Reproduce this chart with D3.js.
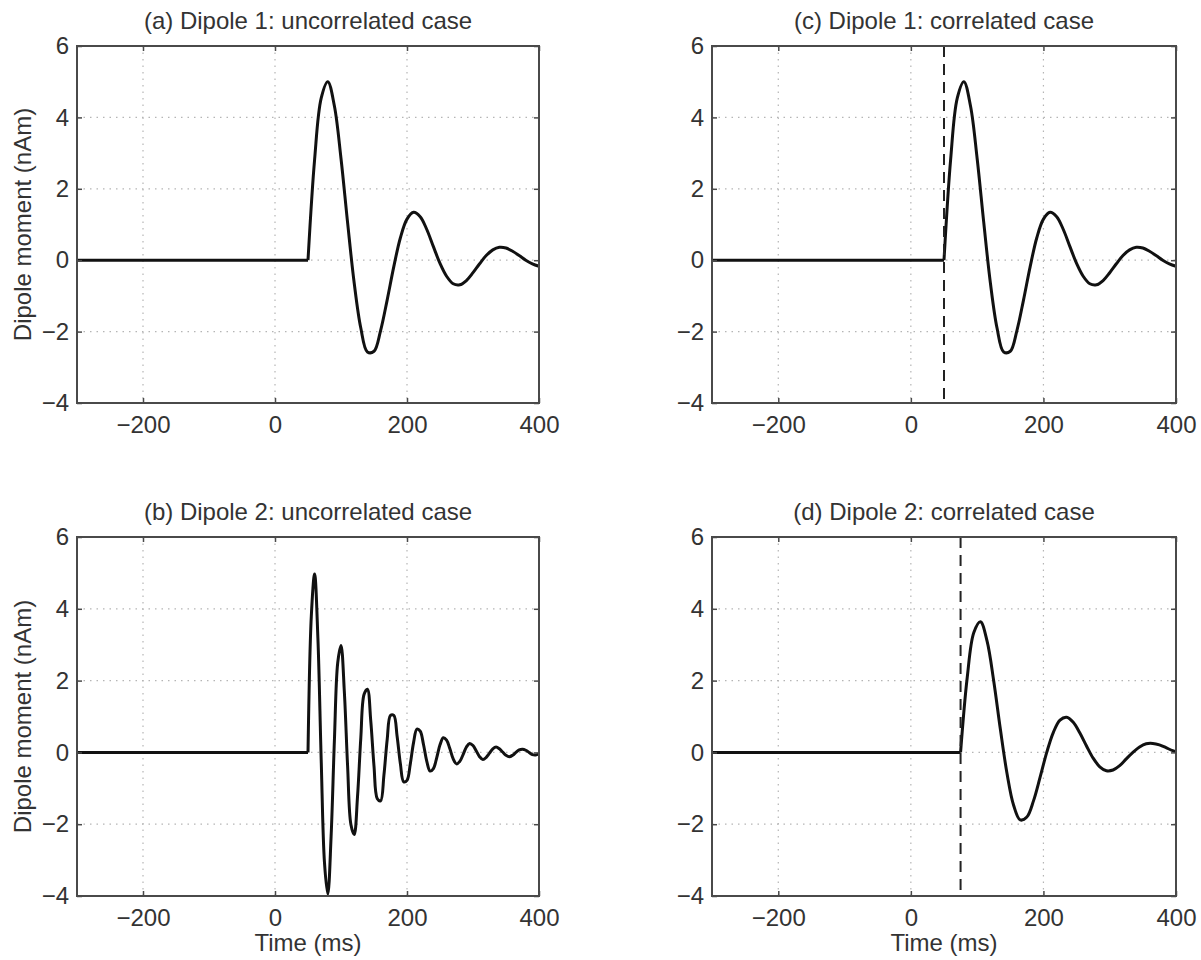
<!DOCTYPE html>
<html><head><meta charset="utf-8">
<script src="https://cdn.jsdelivr.net/npm/d3@7"></script>
<style>
body{margin:0;background:#fff;}
svg text{font-family:"Liberation Sans", Arial, Helvetica, sans-serif; fill:#333;}
</style></head><body>
<svg id="chart" width="1201" height="960"></svg>
<script>
// ---------------- data ----------------
const xDomain = [-300, 400];
const yDomain = [-4, 6];
const xTickValues = [-200, 0, 200, 400];
const yTickValues = [-4, -2, 0, 2, 4, 6];
const panelTitles = ["(a) Dipole 1: uncorrelated case", "(b) Dipole 2: uncorrelated case",
                     "(c) Dipole 1: correlated case", "(d) Dipole 2: correlated case"];
const xLabel = "Time (ms)";
const yLabel = "Dipole moment (nAm)";

// Dipole 1 (panels a and c), onset at 50 ms
const time1 = [-300, 50, 60, 70, 80, 90, 100, 110, 120, 130, 140, 150, 160, 170, 180, 190, 200,
  210, 220, 230, 240, 250, 260, 270, 280, 290, 300, 310, 320, 330, 340, 350, 360, 370, 380, 390, 400];
const dipole1 = [0, 0, 2.82, 4.54, 5.0, 4.32, 2.85, 1.05, -0.64, -1.90, -2.57, -2.55, -1.97, -1.11, -0.18, 0.63, 1.15,
  1.34, 1.22, 0.86, 0.38, -0.09, -0.45, -0.66, -0.69, -0.57, -0.35, -0.10, 0.13, 0.29, 0.36, 0.34, 0.25, 0.13, 0.0, -0.10, -0.17];

// Dipole 2, uncorrelated (panel b), onset at 50 ms
const time2u = [-300, 50, 55, 60, 65, 70, 75, 80, 85, 90, 95, 100, 105, 110, 115, 120, 125, 130, 135, 140, 145,
  150, 155, 160, 165, 170, 175, 180, 185, 190, 195, 200, 205, 210, 215, 220, 225, 230, 235, 240, 245,
  250, 255, 260, 265, 270, 275, 280, 285, 290, 295, 300, 305, 310, 315, 320, 325, 330, 335, 340, 345,
  350, 355, 360, 365, 370, 375, 380, 385, 390, 395, 400];
const dipole2u = [0, 0, 3.79, 4.97, 3.18, -0.21, -3.08, -3.95, -2.34, 0.33, 2.49,
  2.98, 1.71, -0.38, -2.01, -2.29, -1.24, 0.40, 1.62, 1.76, 0.90,
  -0.38, -1.29, -1.35, -0.64, 0.36, 1.03, 1.03, 0.45, -0.32, -0.82,
  -0.78, -0.32, 0.28, 0.65, 0.59, 0.22, -0.25, -0.52, -0.45, -0.15,
  0.21, 0.41, 0.34, 0.10, -0.18, -0.32, -0.25, -0.06, 0.15, 0.25,
  0.19, 0.04, -0.12, -0.20, -0.14, -0.02, 0.10, 0.15, 0.10, 0.01,
  -0.08, -0.12, -0.08, 0.00, 0.07, 0.09, 0.06, 0.00, -0.06, -0.07, -0.04];

// Dipole 2, correlated (panel d), onset at 75 ms
const time2c = [-300, 75, 85, 95, 105, 115, 125, 135, 145, 155, 165, 175, 185, 195, 205, 215, 225,
  235, 245, 255, 265, 275, 285, 295, 305, 315, 325, 335, 345, 355, 365, 375, 385, 395, 400];
const dipole2c = [0, 0, 2.08, 3.34, 3.64, 3.10, 1.99, 0.65, -0.58, -1.47, -1.88, -1.80, -1.35, -0.69, 0, 0.56, 0.90,
  0.98, 0.84, 0.54, 0.18, -0.16, -0.40, -0.51, -0.49, -0.37, -0.18, 0, 0.15, 0.24, 0.25, 0.21, 0.13, 0.05, 0.02];

const onsetLines = [null, null, 50, 75];
const seriesTimes = [time1, time2u, time1, time2c];
const seriesValues = [dipole1, dipole2u, dipole1, dipole2c];

// ---------------- layout ----------------
const panels = [
  {left: 77, right: 539, top: 46, bottom: 403, ylab: true, xlab: false},
  {left: 77, right: 539, top: 537, bottom: 896, ylab: true, xlab: true},
  {left: 712, right: 1176, top: 46, bottom: 403, ylab: false, xlab: false},
  {left: 712, right: 1176, top: 537, bottom: 896, ylab: false, xlab: true}
];
const FS = 24;
const svg = d3.select("#chart");
const axisColor = "#4a4a4a";

panels.forEach((p, i) => {
  const x = d3.scaleLinear().domain(xDomain).range([p.left, p.right]);
  const y = d3.scaleLinear().domain(yDomain).range([p.bottom, p.top]);
  const g = svg.append("g");

  // grid (dotted)
  g.selectAll(".gx").data(xTickValues.filter(v => v > xDomain[0] && v < xDomain[1])).join("line")
    .attr("x1", d => x(d)).attr("x2", d => x(d)).attr("y1", p.top).attr("y2", p.bottom)
    .attr("stroke", "#b5b5b5").attr("stroke-width", 1.2).attr("stroke-dasharray", "1.5,5");
  g.selectAll(".gy").data(yTickValues.filter(v => v > yDomain[0] && v < yDomain[1])).join("line")
    .attr("y1", d => y(d)).attr("y2", d => y(d)).attr("x1", p.left).attr("x2", p.right)
    .attr("stroke", "#b5b5b5").attr("stroke-width", 1.2).attr("stroke-dasharray", "1.5,5");

  // curve: flat pre-onset segment + oscillation
  const ts = seriesTimes[i], vs = seriesValues[i];
  const pts = ts.map((t, k) => [t, vs[k]]);
  const flat = d3.line().x(d => x(d[0])).y(d => y(d[1]));
  const smooth = d3.line().x(d => x(d[0])).y(d => y(d[1])).curve(d3.curveCatmullRom.alpha(0.5));
  g.append("path").attr("d", flat(pts.slice(0, 2))).attr("fill", "none")
    .attr("stroke", "#111").attr("stroke-width", 3);
  g.append("path").attr("d", smooth(pts.slice(1))).attr("fill", "none")
    .attr("stroke", "#111").attr("stroke-width", 3).attr("stroke-linejoin", "round");

  // onset dashed line
  if (onsetLines[i] !== null) {
    g.append("line").attr("x1", x(onsetLines[i])).attr("x2", x(onsetLines[i]))
      .attr("y1", p.top).attr("y2", p.bottom)
      .attr("stroke", "#222").attr("stroke-width", 2).attr("stroke-dasharray", "11,7");
  }

  // box
  g.append("rect").attr("x", p.left).attr("y", p.top)
    .attr("width", p.right - p.left).attr("height", p.bottom - p.top)
    .attr("fill", "none").attr("stroke", axisColor).attr("stroke-width", 2);

  // axes (ticks inward)
  const ax = g.append("g").attr("transform", `translate(0,${p.bottom})`)
    .call(d3.axisBottom(x).tickValues(xTickValues).tickSizeInner(-5).tickSizeOuter(0).tickPadding(13));
  const axTop = g.append("g").attr("transform", `translate(0,${p.top})`)
    .call(d3.axisTop(x).tickValues(xTickValues).tickSizeInner(-5).tickSizeOuter(0).tickFormat(""));
  const ay = g.append("g").attr("transform", `translate(${p.left},0)`)
    .call(d3.axisLeft(y).tickValues(yTickValues).tickSizeInner(-5).tickSizeOuter(0).tickPadding(8));
  const ayR = g.append("g").attr("transform", `translate(${p.right},0)`)
    .call(d3.axisRight(y).tickValues(yTickValues).tickSizeInner(-5).tickSizeOuter(0).tickFormat(""));
  [ax, axTop, ay, ayR].forEach(a => {
    a.select(".domain").remove();
    a.selectAll(".tick line").attr("stroke", axisColor).attr("stroke-width", 1.5);
    a.selectAll(".tick text").attr("font-size", FS).attr("font-family", null).attr("fill", "#333");
  });

  // title
  g.append("text").attr("x", (p.left + p.right) / 2).attr("y", p.top - 17)
    .attr("text-anchor", "middle").attr("font-size", FS).text(panelTitles[i]);

  if (p.xlab) {
    g.append("text").attr("x", (p.left + p.right) / 2).attr("y", p.bottom + 55)
      .attr("text-anchor", "middle").attr("font-size", FS).text(xLabel);
  }
  if (p.ylab) {
    g.append("text").attr("transform", `translate(31,${(p.top + p.bottom) / 2}) rotate(-90)`)
      .attr("text-anchor", "middle").attr("font-size", FS).text(yLabel);
  }
});
</script>
</body></html>
